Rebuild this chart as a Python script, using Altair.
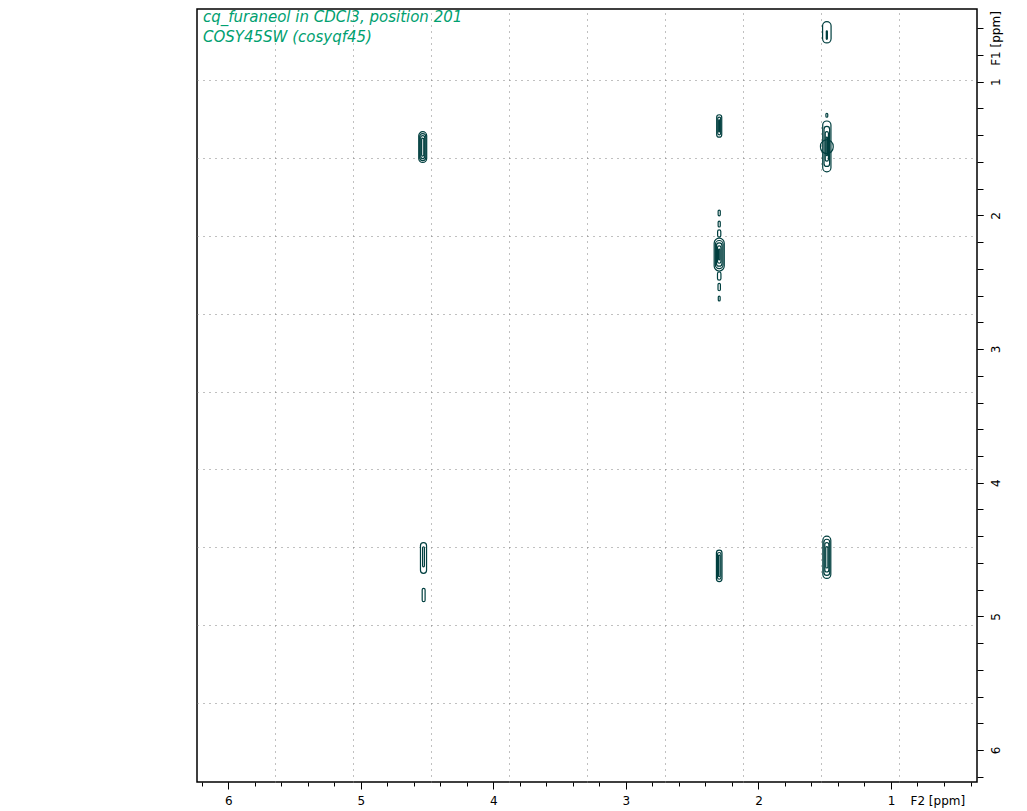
import altair as alt
import pandas as pd

# ---- data (ppm) ----
# every contour ring: centre on F2 / F1 and half-width / half-height
ring_f2 = [1.484, 1.484,
           4.533, 4.533, 4.533, 4.533,
           2.296, 2.296, 2.296,
           1.484, 1.484, 1.484, 1.484, 1.484, 1.484,
           2.296, 2.296, 2.296, 2.296, 2.296,
           2.296, 2.296, 2.296, 2.296, 2.296, 2.296,
           4.527, 4.527,
           4.526,
           2.296, 2.296, 2.296,
           1.484, 1.484, 1.484, 1.484]
ring_f1 = [0.630, 0.651,
           1.489, 1.489, 1.489, 1.489,
           1.331, 1.331, 1.331,
           1.484, 1.486, 1.484, 1.484, 1.484, 1.251,
           2.293, 2.293, 2.293, 2.293, 2.293,
           1.982, 2.065, 2.136, 2.454, 2.536, 2.622,
           4.563, 4.554,
           4.840,
           4.622, 4.622, 4.622,
           4.558, 4.558, 4.558, 4.558]
ring_hw = [0.032, 0.004,
           0.030, 0.023, 0.015, 0.008,
           0.019, 0.011, 0.004,
           0.031, 0.048, 0.021, 0.012, 0.005, 0.007,
           0.038, 0.029, 0.021, 0.013, 0.005,
           0.008, 0.008, 0.012, 0.013, 0.009, 0.007,
           0.023, 0.007,
           0.011,
           0.021, 0.013, 0.006,
           0.030, 0.022, 0.015, 0.008]
ring_hh = [0.080, 0.032,
           0.115, 0.101, 0.086, 0.067,
           0.084, 0.066, 0.045,
           0.190, 0.052, 0.150, 0.110, 0.070, 0.015,
           0.123, 0.105, 0.087, 0.065, 0.040,
           0.022, 0.022, 0.027, 0.031, 0.028, 0.018,
           0.115, 0.075,
           0.050,
           0.118, 0.100, 0.080,
           0.158, 0.135, 0.110, 0.080]

major_ticks = [1, 2, 3, 4, 5, 6]
minor_x = [0.4, 0.6, 0.8, 1.0, 1.2, 1.4, 1.6, 1.8, 2.0, 2.2, 2.4, 2.6, 2.8, 3.0,
           3.2, 3.4, 3.6, 3.8, 4.0, 4.2, 4.4, 4.6, 4.8, 5.0, 5.2, 5.4, 5.6, 5.8,
           6.0, 6.2]
minor_y = [0.6, 0.8, 1.0, 1.2, 1.4, 1.6, 1.8, 2.0, 2.2, 2.4, 2.6, 2.8, 3.0,
           3.2, 3.4, 3.6, 3.8, 4.0, 4.2, 4.4, 4.6, 4.8, 5.0, 5.2, 5.4, 5.6, 5.8,
           6.0, 6.2]
grid_f2 = [5.648, 5.059, 4.471, 3.882, 3.294, 2.705, 2.117, 1.528, 0.940]
grid_f1 = [0.987, 1.570, 2.152, 2.735, 3.318, 3.901, 4.484, 5.066, 5.649]
title_lines = ["cq_furaneol in CDCl3, position 201", "COSY45SW (cosyqf45)"]

df = pd.DataFrame({"f2": ring_f2, "f1": ring_f1, "hw": ring_hw, "hh": ring_hh})
df["x1"] = df["f2"] - df["hw"]
df["x2"] = df["f2"] + df["hw"]
df["y1"] = df["f1"] - df["hh"]
df["y2"] = df["f1"] + df["hh"]

CONTOUR = "#003f3f"
FONT = "DejaVu Sans"

xscale = alt.Scale(domain=[0.351, 6.236], reverse=True, nice=False, zero=False)
yscale = alt.Scale(domain=[0.456, 6.239], reverse=True, nice=False, zero=False)

x_major = alt.Axis(orient="bottom", values=major_ticks, format="d", tickSize=7,
                   tickColor="black", tickWidth=1, domain=False, grid=False,
                   labelFont=FONT, labelFontSize=12, labelColor="black",
                   labelBaseline="middle", labelAlign="center", labelPadding=11,
                   labelFlush=False, labelOverlap=False,
                   title="F2 [ppm]", titleX=713, titleY=18, titleAlign="left",
                   titleBaseline="middle", titleAngle=0, titleFont=FONT,
                   titleFontSize=12, titleFontWeight="normal", titleColor="black")
y_major = alt.Axis(orient="right", values=major_ticks, format="d", tickSize=6,
                   tickColor="black", tickWidth=1, domain=False, grid=False,
                   labelFont=FONT, labelFontSize=12, labelColor="black",
                   labelAngle=270, labelBaseline="middle", labelAlign="center",
                   labelPadding=12, labelFlush=False, labelOverlap=False,
                   title="F1 [ppm]", titleX=18, titleY=29, titleAlign="center",
                   titleBaseline="middle", titleAngle=270, titleFont=FONT,
                   titleFontSize=12, titleFontWeight="normal", titleColor="black")
x_minor = alt.Axis(orient="bottom", values=minor_x, tickSize=4, tickColor="black",
                   tickWidth=1, labels=False, domain=False, grid=False, title=None)
y_minor = alt.Axis(orient="right", values=minor_y, tickSize=6, tickColor="black",
                   tickWidth=1, labels=False, domain=False, grid=False, title=None)
x_grid = alt.Axis(orient="bottom", values=grid_f2, grid=True, gridDash=[1, 5],
                  gridColor="#808080", gridWidth=1, ticks=False, labels=False,
                  domain=False, title=None)
y_grid = alt.Axis(orient="right", values=grid_f1, grid=True, gridDash=[1, 5],
                  gridColor="#808080", gridWidth=1, ticks=False, labels=False,
                  domain=False, title=None)

base = alt.Chart(df)

grid_layer = base.mark_point(opacity=0).encode(
    x=alt.X("f2:Q", scale=xscale, axis=x_grid),
    y=alt.Y("f1:Q", scale=yscale, axis=y_grid),
)
minor_layer = base.mark_point(opacity=0).encode(
    x=alt.X("f2:Q", scale=xscale, axis=x_minor),
    y=alt.Y("f1:Q", scale=yscale, axis=y_minor),
)
contours = base.mark_rect(filled=False, stroke=CONTOUR, strokeWidth=1.2,
                          cornerRadius=50).encode(
    x=alt.X("x1:Q", scale=xscale, axis=x_major),
    x2="x2:Q",
    y=alt.Y("y1:Q", scale=yscale, axis=y_major),
    y2="y2:Q",
)
title_df = pd.DataFrame({"t": ["\n".join(title_lines)]})
title_layer = alt.Chart(title_df).mark_text(
    align="left", baseline="alphabetic", font=FONT, fontStyle="italic",
    fontSize=15, color="#00a070", lineBreak="\n", lineHeight=20,
).encode(x=alt.value(6), y=alt.value(13), text="t:N")

chart = alt.layer(grid_layer, minor_layer, contours, title_layer).resolve_axis(
    x="independent", y="independent"
).properties(
    width=780, height=773,
    autosize=alt.AutoSizeParams(type="none"),
    padding={"left": 189, "top": 1, "right": 27, "bottom": 34},
    background="white",
).configure_view(stroke="black", strokeWidth=1.5)

chart.save("out.html", embed_options={"renderer": "svg", "actions": False})
